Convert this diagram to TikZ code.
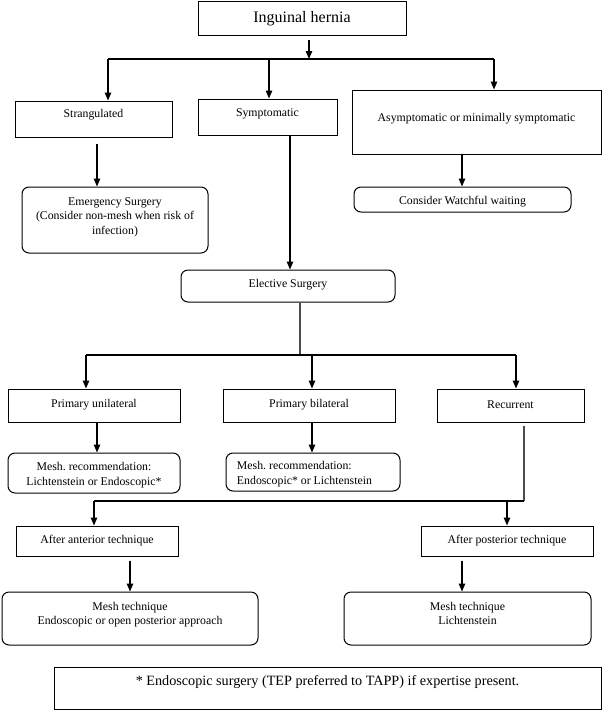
\documentclass[tikz,border=0pt]{standalone}
\usepackage{fontspec}
\setmainfont{Liberation Serif}
\usetikzlibrary{arrows.meta}
\newcommand{\liftby}[2]{\raisebox{#1}[\height][\depth]{#2}}
\newcommand{\lineset}[1]{\begin{tabular}{@{}c@{}}#1\end{tabular}}
\newcommand{\linesetl}[1]{\begin{tabular}{@{}l@{}}#1\end{tabular}}
\frenchspacing
\begin{document}
\begin{tikzpicture}[x=1pt,y=-1pt,
  box/.style={draw, line width=1pt, inner sep=2pt, font=\fontsize{11.8}{14.5}\selectfont, align=center},
  rbox/.style={box, rounded corners=7pt},
  arr/.style={line width=1.3pt, -{Triangle[length=8pt,width=6.5pt]}},
  ln/.style={line width=1.3pt},
  thinln/.style={line width=1.1pt, draw=black!70}]
\useasboundingbox (0,0) rectangle (602,710);

% nodes
\node[box, minimum width=208pt, minimum height=34pt, font=\fontsize{16}{18}\selectfont] (hernia) at (302,18) {\liftby{-1pt}{Inguinal hernia}};
\node[box, minimum width=157pt, minimum height=36pt] (strang) at (93.5,119) {\liftby{4pt}{Strangulated}};
\node[box, minimum width=139pt, minimum height=36pt] (sympt) at (267.5,117) {\liftby{3pt}{Symptomatic}};
\node[box, minimum width=249pt, minimum height=64pt] (asym) at (476.5,122) {\liftby{3pt}{Asymptomatic or minimally symptomatic}};
\node[rbox, minimum width=186pt, minimum height=66pt] (emerg) at (115,220) {\liftby{3pt}{\lineset{Emergency Surgery\\(Consider non-mesh when risk of\\infection)}}};
\node[rbox, minimum width=217pt, minimum height=25pt] (watch) at (462.5,199.5) {\liftby{-2pt}{Consider Watchful waiting}};
\node[rbox, minimum width=214pt, minimum height=32pt] (elect) at (288,286) {\liftby{1pt}{Elective Surgery}};
\node[box, minimum width=172pt, minimum height=33pt] (punil) at (94,405.5) {\liftby{1pt}{Primary unilateral}};
\node[box, minimum width=172pt, minimum height=33pt] (pbil) at (309,405.5) {\liftby{1pt}{Primary bilateral}};
\node[box, minimum width=147pt, minimum height=33pt] (recur) at (510.5,405.5) {\liftby{1pt}{Recurrent}};
\node[rbox, minimum width=172pt, minimum height=40pt] (mesh1) at (94,473) {\liftby{-2pt}{\lineset{Mesh. recommendation:\\Lichtenstein or Endoscopic*}}};
\node[rbox, minimum width=174pt, minimum height=38pt] (mesh2) at (313,472) {\liftby{-2pt}{\linesetl{Mesh. recommendation:\\Endoscopic* or Lichtenstein}}\hspace*{17pt}};
\node[box, minimum width=162pt, minimum height=30pt] (ant) at (97,541) {After anterior technique};
\node[box, minimum width=172pt, minimum height=30pt] (post) at (507,541) {After posterior technique};
\node[rbox, minimum width=256pt, minimum height=53pt] (meshL) at (130,618.5) {\liftby{4pt}{\lineset{Mesh technique\\Endoscopic or open posterior approach}}};
\node[rbox, minimum width=247pt, minimum height=53pt] (meshR) at (467.5,618.5) {\liftby{4pt}{\lineset{Mesh technique\\Lichtenstein}}};
\node[box, minimum width=547pt, minimum height=42pt, font=\fontsize{14.2}{16}\selectfont] (foot) at (327.5,688) {\liftby{6pt}{* Endoscopic surgery (TEP preferred to TAPP) if expertise present.}};

% junction coordinates
\coordinate (j1) at (309,59);
\coordinate (j1a) at (108,59);
\coordinate (j1b) at (269,59);
\coordinate (j1c) at (494,59);
\coordinate (xa) at (97,0);
\coordinate (xb) at (290,0);
\coordinate (xc) at (462,0);
\coordinate (j2) at (300,355);
\coordinate (j2a) at (86,355);
\coordinate (j2b) at (312,355);
\coordinate (j2c) at (516,355);
\coordinate (j3) at (524,501);
\coordinate (j3a) at (94,501);
\coordinate (j3b) at (507,501);
\coordinate (xd) at (130,0);

% connectors
\draw[arr, shorten <=4pt] (hernia.south -| j1) -- (j1);
\draw[ln] (j1a) -- (j1c);
\draw[arr] (j1a) -- (j1a |- strang.north);
\draw[arr] (j1b) -- (j1b |- sympt.north);
\draw[arr] (j1c) -- (j1c |- asym.north);
\draw[arr, shorten <=6pt] (strang.south -| xa) -- (emerg.north -| xa);
\draw[arr] (sympt.south -| xb) -- (elect.north -| xb);
\draw[arr] (asym.south -| xc) -- (watch.north -| xc);
\draw[thinln] (elect.south -| j2) -- (j2);
\draw[ln] (j2a) -- (j2c);
\draw[arr] (j2a) -- (j2a |- punil.north);
\draw[arr] (j2b) -- (j2b |- pbil.north);
\draw[arr] (j2c) -- (j2c |- recur.north);
\draw[arr] (punil.south -| xa) -- (mesh1.north -| xa);
\draw[arr] (pbil.south -| j2b) -- (mesh2.north -| j2b);
\draw[thinln, shorten <=3pt] (recur.south -| j3) -- (j3);
\draw[ln] (j3) -- (j3a);
\draw[arr] (j3a) -- (j3a |- ant.north);
\draw[arr] (j3b) -- (j3b |- post.north);
\draw[arr, shorten <=4pt] (ant.south -| xd) -- (meshL.north -| xd);
\draw[arr, shorten <=4pt] (post.south -| xc) -- (meshR.north -| xc);
\end{tikzpicture}
\end{document}
